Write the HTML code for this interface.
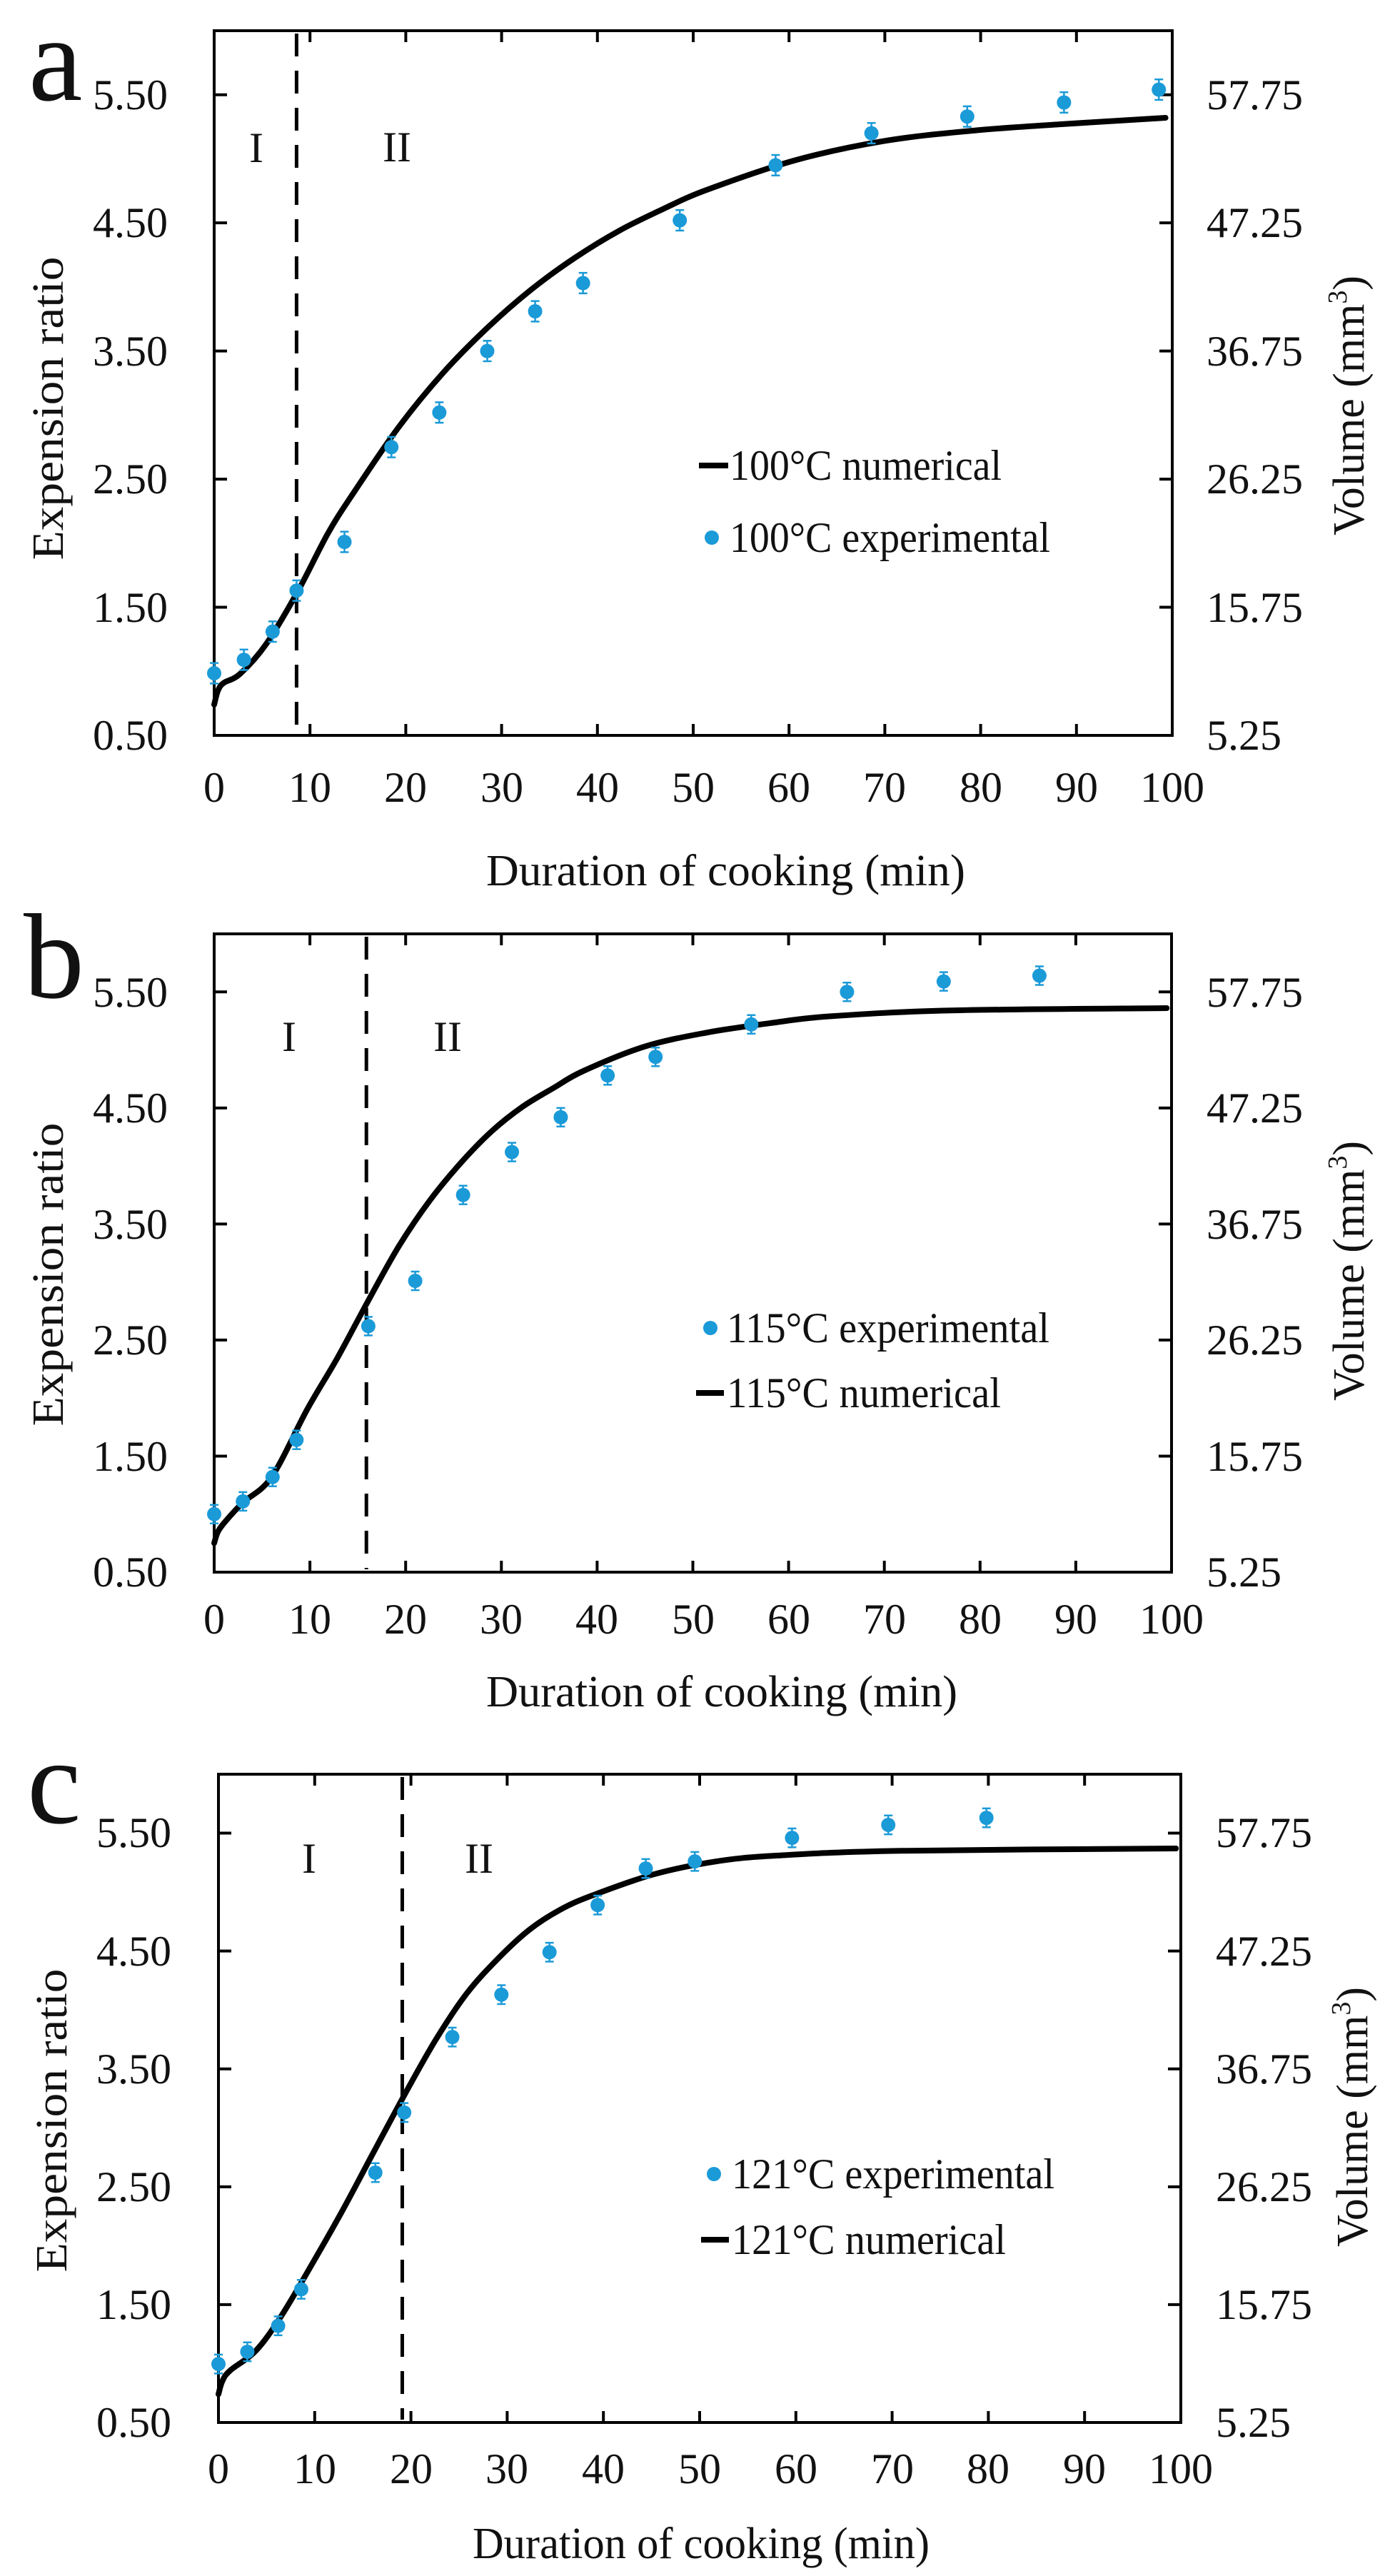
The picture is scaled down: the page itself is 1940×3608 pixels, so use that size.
<!DOCTYPE html>
<html><head><meta charset="utf-8"><style>
html,body{margin:0;padding:0;background:#fff}
svg{display:block}
text{font-family:"Liberation Serif",serif;fill:#111}
</style></head><body>
<svg id="s" width="1940" height="3608" viewBox="0 0 1940 3608" xmlns="http://www.w3.org/2000/svg">
<rect width="1940" height="3608" fill="#fff"/>
<g id="g"></g>

<!-- Panel a texts -->
<text x="40" y="140" font-size="170">a</text>
<g font-size="60" text-anchor="end">
<text x="235" y="153">5.50</text><text x="235" y="332">4.50</text><text x="235" y="512">3.50</text>
<text x="235" y="691">2.50</text><text x="235" y="871">1.50</text><text x="235" y="1050">0.50</text>
</g>
<g font-size="60">
<text x="1690" y="153">57.75</text><text x="1690" y="332">47.25</text><text x="1690" y="512">36.75</text>
<text x="1690" y="691">26.25</text><text x="1690" y="871">15.75</text><text x="1690" y="1050">5.25</text>
</g>
<g font-size="60" text-anchor="middle">
<text x="300" y="1123">0</text><text x="434" y="1123">10</text><text x="568" y="1123">20</text><text x="703" y="1123">30</text>
<text x="837" y="1123">40</text><text x="971" y="1123">50</text><text x="1105" y="1123">60</text><text x="1239" y="1123">70</text>
<text x="1374" y="1123">80</text><text x="1508" y="1123">90</text><text x="1642" y="1123">100</text>
</g>
<text x="681" y="1240" font-size="62" textLength="671" lengthAdjust="spacingAndGlyphs">Duration of cooking (min)</text>
<text transform="translate(88,572) rotate(-90)" font-size="62" text-anchor="middle" textLength="425" lengthAdjust="spacingAndGlyphs">Expension ratio</text>
<text transform="translate(1910,568) rotate(-90)" font-size="62" text-anchor="middle">Volume (mm<tspan font-size="38" dy="-24">3</tspan><tspan dy="24">)</tspan></text>
<text x="359" y="227" font-size="60" text-anchor="middle">I</text>
<text x="556" y="226" font-size="60" text-anchor="middle">II</text>
<text x="1022" y="672" font-size="60" textLength="381" lengthAdjust="spacingAndGlyphs">100°C numerical</text>
<text x="1022" y="773" font-size="60" textLength="449" lengthAdjust="spacingAndGlyphs">100°C experimental</text>

<!-- Panel b texts -->
<text x="33" y="1397" font-size="170">b</text>
<g font-size="60" text-anchor="end">
<text x="235" y="1410">5.50</text><text x="235" y="1572">4.50</text><text x="235" y="1735">3.50</text>
<text x="235" y="1897">2.50</text><text x="235" y="2060">1.50</text><text x="235" y="2222">0.50</text>
</g>
<g font-size="60">
<text x="1690" y="1410">57.75</text><text x="1690" y="1572">47.25</text><text x="1690" y="1735">36.75</text>
<text x="1690" y="1897">26.25</text><text x="1690" y="2060">15.75</text><text x="1690" y="2222">5.25</text>
</g>
<g font-size="60" text-anchor="middle">
<text x="300" y="2288">0</text><text x="434" y="2288">10</text><text x="568" y="2288">20</text><text x="702" y="2288">30</text>
<text x="836" y="2288">40</text><text x="971" y="2288">50</text><text x="1105" y="2288">60</text><text x="1239" y="2288">70</text>
<text x="1373" y="2288">80</text><text x="1507" y="2288">90</text><text x="1641" y="2288">100</text>
</g>
<text x="681" y="2390" font-size="62" textLength="660" lengthAdjust="spacingAndGlyphs">Duration of cooking (min)</text>
<text transform="translate(88,1785) rotate(-90)" font-size="62" text-anchor="middle" textLength="425" lengthAdjust="spacingAndGlyphs">Expension ratio</text>
<text transform="translate(1910,1780) rotate(-90)" font-size="62" text-anchor="middle">Volume (mm<tspan font-size="38" dy="-24">3</tspan><tspan dy="24">)</tspan></text>
<text x="405" y="1472" font-size="60" text-anchor="middle">I</text>
<text x="627" y="1472" font-size="60" text-anchor="middle">II</text>
<text x="1018" y="1880" font-size="60" textLength="452" lengthAdjust="spacingAndGlyphs">115°C experimental</text>
<text x="1018" y="1971" font-size="60" textLength="384" lengthAdjust="spacingAndGlyphs">115°C numerical</text>

<!-- Panel c texts -->
<text x="38" y="2553" font-size="170">c</text>
<g font-size="60" text-anchor="end">
<text x="240" y="2587">5.50</text><text x="240" y="2753">4.50</text><text x="240" y="2918">3.50</text>
<text x="240" y="3083">2.50</text><text x="240" y="3248">1.50</text><text x="240" y="3413">0.50</text>
</g>
<g font-size="60">
<text x="1703" y="2587">57.75</text><text x="1703" y="2753">47.25</text><text x="1703" y="2918">36.75</text>
<text x="1703" y="3083">26.25</text><text x="1703" y="3248">15.75</text><text x="1703" y="3413">5.25</text>
</g>
<g font-size="60" text-anchor="middle">
<text x="306" y="3478">0</text><text x="441" y="3478">10</text><text x="576" y="3478">20</text><text x="710" y="3478">30</text>
<text x="845" y="3478">40</text><text x="980" y="3478">50</text><text x="1115" y="3478">60</text><text x="1250" y="3478">70</text>
<text x="1384" y="3478">80</text><text x="1519" y="3478">90</text><text x="1654" y="3478">100</text>
</g>
<text x="662" y="3583" font-size="62" textLength="640" lengthAdjust="spacingAndGlyphs">Duration of cooking (min)</text>
<text transform="translate(93,2970) rotate(-90)" font-size="62" text-anchor="middle" textLength="425" lengthAdjust="spacingAndGlyphs">Expension ratio</text>
<text transform="translate(1915,2965) rotate(-90)" font-size="62" text-anchor="middle">Volume (mm<tspan font-size="38" dy="-24">3</tspan><tspan dy="24">)</tspan></text>
<text x="433" y="2623" font-size="60" text-anchor="middle">I</text>
<text x="671" y="2623" font-size="60" text-anchor="middle">II</text>
<text x="1025" y="3065" font-size="60" textLength="452" lengthAdjust="spacingAndGlyphs">121°C experimental</text>
<text x="1025" y="3157" font-size="60" textLength="384" lengthAdjust="spacingAndGlyphs">121°C numerical</text>
</svg>
<script>
var NS="http://www.w3.org/2000/svg",G=document.getElementById("g");
function el(t,a){var e=document.createElementNS(NS,t);for(var k in a)e.setAttribute(k,a[k]);G.appendChild(e);return e;}
var BLUE="#1b9ad8";
var panels=[
{L:300,R:1642,T:43,B:1030,dash:8.6,
 curve:[[0,0.74],[0.4,0.85],[1,0.91],[2.7,0.98],[5.4,1.21],[8.7,1.62],[11.9,2.08],[14.7,2.41],[19.3,2.91],[23.9,3.33],[28.5,3.68],[33.1,3.98],[37.7,4.23],[42.3,4.44],[46.9,4.61],[51.5,4.76],[60.7,4.99],[70,5.14],[79.2,5.22],[88.4,5.27],[99.3,5.32]],
 pts:[[0,0.985],[3.1,1.09],[6.1,1.31],[8.6,1.63],[13.6,2.01],[18.5,2.75],[23.5,3.02],[28.5,3.50],[33.5,3.81],[38.5,4.03],[48.6,4.52],[58.6,4.95],[68.6,5.20],[78.6,5.33],[88.7,5.44],[98.6,5.54]],
 legL:[979,1020,652],legD:[997,753]},
{L:300,R:1641,T:1308,B:2202,dash:15.9,
 curve:[[0,0.75],[0.4,0.85],[1.2,0.94],[3,1.10],[6,1.32],[9.7,1.90],[12.9,2.35],[16.1,2.84],[19.3,3.31],[22.5,3.70],[25.8,4.03],[29,4.30],[32.2,4.51],[35.4,4.67],[38.6,4.82],[45,5.03],[51.5,5.15],[58,5.23],[64.4,5.29],[77,5.34],[99.5,5.36]],
 pts:[[0,1.00],[3,1.11],[6.1,1.32],[8.6,1.64],[16.1,2.62],[21,3.01],[26,3.75],[31.1,4.12],[36.2,4.42],[41.1,4.78],[46.1,4.94],[56.1,5.22],[66.1,5.50],[76.2,5.59],[86.2,5.64]],
 legL:[975,1014,1951],legD:[995,1860]},
{L:306,R:1654,T:2485,B:3393,dash:19.1,
 curve:[[0,0.74],[0.4,0.85],[1.2,0.94],[3.9,1.11],[6.5,1.40],[9.7,1.84],[12.9,2.30],[16.1,2.79],[19.4,3.29],[22.6,3.75],[25.8,4.14],[29.1,4.44],[32.3,4.68],[35.5,4.85],[38.8,4.97],[45.2,5.15],[51.7,5.26],[58.1,5.31],[71,5.35],[99.5,5.37]],
 pts:[[0,0.996],[3,1.10],[6.2,1.32],[8.6,1.63],[16.3,2.62],[19.3,3.13],[24.3,3.77],[29.4,4.13],[34.4,4.49],[39.4,4.89],[44.4,5.20],[49.5,5.26],[59.6,5.46],[69.6,5.57],[79.8,5.63]],
 legL:[982,1021,3137],legD:[1000,3045]}
];
panels.forEach(function(p){
 var u=(p.B-p.T)/5.5, X=function(m){return p.L+m*(p.R-p.L)/100}, Y=function(v){return p.B-(v-0.5)*u};
 el("line",{x1:X(p.dash),y1:p.T+4,x2:X(p.dash),y2:p.B-4,stroke:"#000","stroke-width":5,"stroke-dasharray":"32,20"});
 for(var i=0;i<=10;i++){var x=X(i*10);
  el("line",{x1:x,y1:p.B,x2:x,y2:p.B-16,stroke:"#000","stroke-width":4});
  el("line",{x1:x,y1:p.T,x2:x,y2:p.T+16,stroke:"#000","stroke-width":4});}
 for(var v=0.5;v<=5.51;v+=1){var y=Y(v);
  el("line",{x1:p.L,y1:y,x2:p.L+18,y2:y,stroke:"#000","stroke-width":4});
  el("line",{x1:p.R,y1:y,x2:p.R-18,y2:y,stroke:"#000","stroke-width":4});}
 el("rect",{x:p.L,y:p.T,width:p.R-p.L,height:p.B-p.T,fill:"none",stroke:"#000","stroke-width":4});
 var c=p.curve.map(function(q){return [X(q[0]),Y(q[1])]});
 var d="M"+c[0][0]+","+c[0][1];
 for(var k=0;k<c.length-1;k++){var p0=c[k-1]||c[k],p1=c[k],p2=c[k+1],p3=c[k+2]||p2;
  d+=" C"+(p1[0]+(p2[0]-p0[0])/6)+","+(p1[1]+(p2[1]-p0[1])/6)+" "+(p2[0]-(p3[0]-p1[0])/6)+","+(p2[1]-(p3[1]-p1[1])/6)+" "+p2[0]+","+p2[1];}
 el("path",{d:d,fill:"none",stroke:"#000","stroke-width":8,"stroke-linecap":"round","stroke-linejoin":"round"});
 p.pts.forEach(function(q){var x=X(q[0]),y=Y(q[1]),e=0.08*u;
  el("line",{x1:x,y1:y-e,x2:x,y2:y+e,stroke:BLUE,"stroke-width":2.5});
  el("line",{x1:x-6,y1:y-e,x2:x+6,y2:y-e,stroke:BLUE,"stroke-width":2.5});
  el("line",{x1:x-6,y1:y+e,x2:x+6,y2:y+e,stroke:BLUE,"stroke-width":2.5});
  el("circle",{cx:x,cy:y,r:10,fill:BLUE});});
 el("line",{x1:p.legL[0],y1:p.legL[2],x2:p.legL[1],y2:p.legL[2],stroke:"#000","stroke-width":8});
 el("circle",{cx:p.legD[0],cy:p.legD[1],r:10,fill:BLUE});
});
</script>
</body></html>
